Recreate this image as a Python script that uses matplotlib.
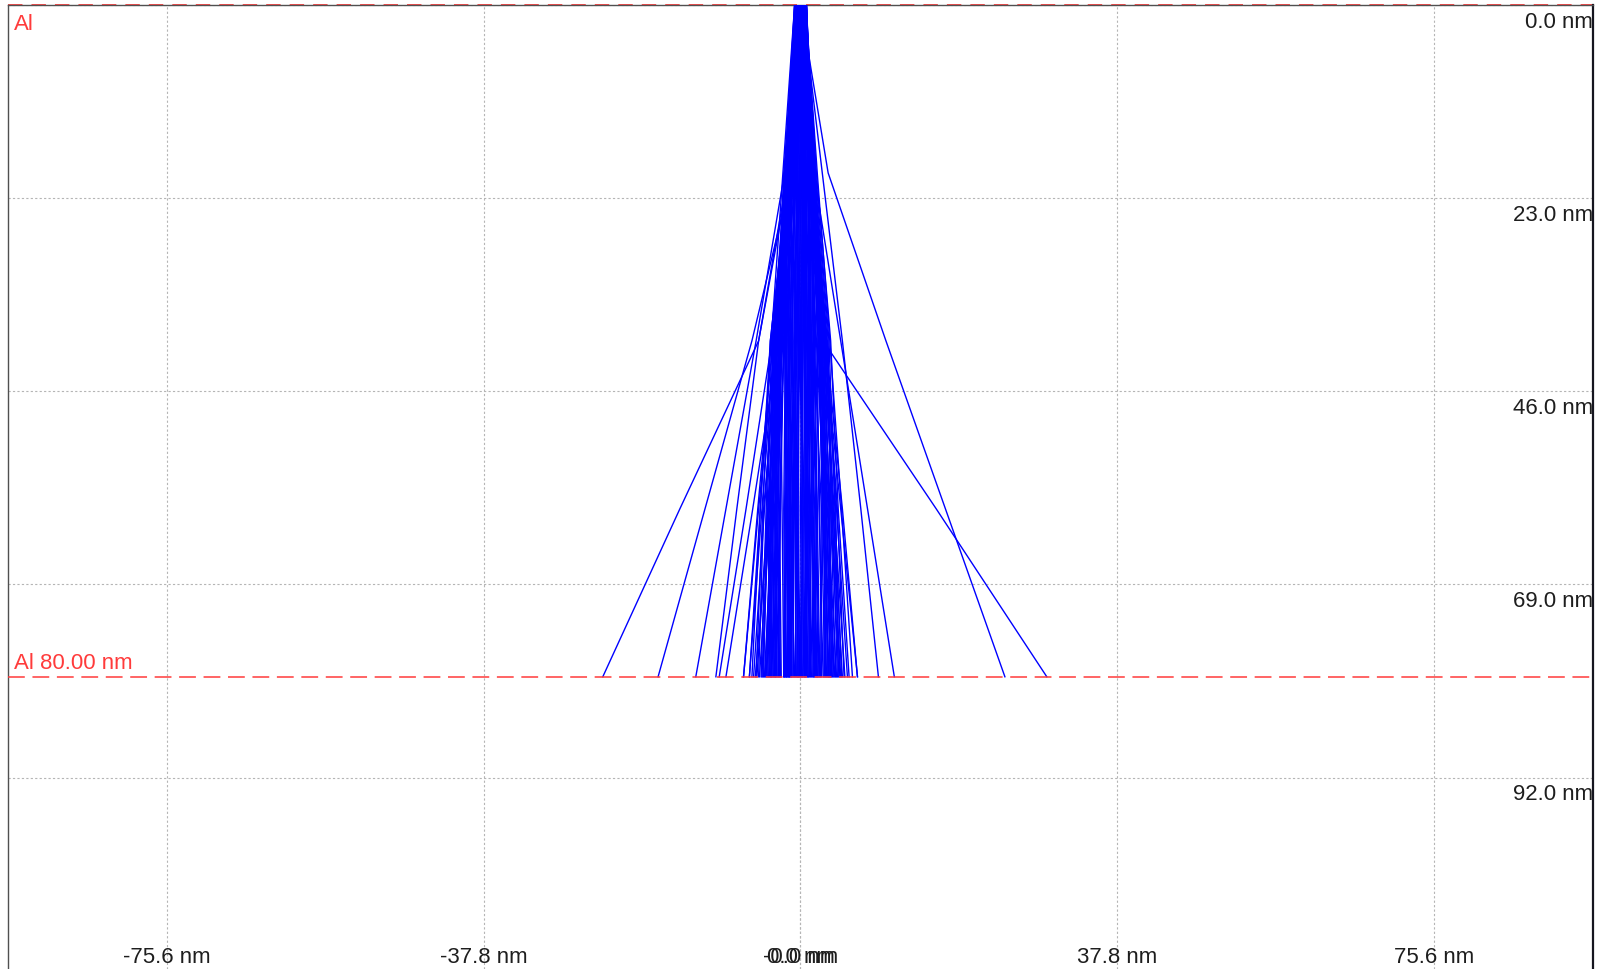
import matplotlib
matplotlib.use("Agg")
import matplotlib.pyplot as plt

plt.rcParams["font.family"] = ["Liberation Sans", "DejaVu Sans"]

# Film: aluminium layer, 80 nm thick
layer_name = "Al"
layer_thickness = 80.0

# Axis grid / tick values (nm)
x_ticks = [-75.6, -37.8, -0.0, 0.0, 37.8, 75.6]
x_tick_labels = ["-75.6 nm", "-37.8 nm", "-0.0 nm", "0.0 nm", "37.8 nm", "75.6 nm"]
y_ticks = [0.0, 23.0, 46.0, 69.0, 92.0]
y_tick_labels = ["0.0 nm", "23.0 nm", "46.0 nm", "69.0 nm", "92.0 nm"]

# Depths (nm) at which each electron trajectory is sampled
depths = [0.0, 20.0, 40.0, 60.0, 80.0]

# Lateral position (nm) of each trajectory at the depths above
core_tracks = [
    [-0.6, -1.5, -1.9, -1.7, -1.8],
    [-0.5, -1.2, -1.6, -1.9, -1.7],
    [-0.5, -1.4, -1.2, -1.5, -1.6],
    [-0.4, -0.9, -1.5, -1.3, -1.5],
    [-0.4, -1.1, -1.0, -1.4, -1.3],
    [-0.3, -0.7, -1.3, -1.1, -1.2],
    [-0.3, -0.8, -0.9, -1.2, -1.0],
    [-0.2, -0.6, -1.1, -0.8, -0.9],
    [-0.2, -0.4, -0.7, -1.0, -0.8],
    [-0.1, -0.5, -0.6, -0.6, -0.6],
    [-0.1, -0.3, -0.8, -0.7, -0.5],
    [0.0, -0.2, -0.4, -0.5, -0.4],
    [0.0, -0.1, -0.3, -0.2, -0.2],
    [0.0, 0.0, -0.1, -0.3, -0.1],
    [0.1, 0.1, 0.0, 0.1, 0.0],
    [0.1, 0.2, 0.2, 0.0, 0.2],
    [0.1, 0.3, 0.1, 0.3, 0.3],
    [0.2, 0.4, 0.5, 0.4, 0.5],
    [0.2, 0.2, 0.4, 0.6, 0.6],
    [0.2, 0.5, 0.7, 0.5, 0.8],
    [0.3, 0.6, 0.6, 0.9, 0.9],
    [0.3, 0.4, 0.9, 0.8, 1.1],
    [0.4, 0.7, 0.8, 1.1, 1.2],
    [0.4, 0.9, 1.1, 1.0, 1.4],
    [0.5, 0.8, 1.2, 1.3, 1.5],
    [0.5, 1.0, 1.0, 1.4, 1.7],
    [0.6, 1.1, 1.3, 1.6, 1.8],
    [0.6, 1.2, 1.5, 1.5, 2.0],
    [0.7, 1.3, 1.4, 1.8, 2.1],
    [-0.6, -1.0, -1.7, -1.6, -1.4],
    [-0.2, -0.3, -0.5, -0.9, -1.1],
    [0.0, 0.3, 0.3, 0.2, 0.4],
    [0.3, 0.1, 0.6, 0.7, 0.7],
    [-0.4, -0.6, -0.2, -0.4, -0.3],
    [0.5, 0.6, 0.8, 1.2, 1.0],
    [-0.1, 0.0, 0.2, 0.3, 0.1],
    [-0.7, -1.6, -1.8, -2.0, -1.9],
    [-0.6, -1.3, -1.4, -1.8, -2.0],
    [-0.5, -1.1, -1.8, -1.6, -1.9],
    [-0.4, -1.5, -1.7, -1.2, -1.7],
    [-0.3, -1.0, -1.2, -1.7, -1.4],
    [-0.3, -0.5, -1.4, -1.5, -1.1],
    [-0.2, -0.9, -0.6, -1.3, -0.7],
    [-0.1, -0.7, -1.0, -0.4, -0.3],
    [0.0, -0.4, -0.2, -0.6, 0.2],
    [0.1, 0.5, 0.4, 0.8, 0.5],
    [0.2, 0.7, 1.0, 0.7, 1.3],
    [0.3, 0.9, 1.3, 1.4, 1.6],
    [0.4, 1.1, 0.9, 1.7, 1.9],
    [0.5, 1.2, 1.6, 1.9, 2.2],
    [0.6, 0.9, 1.2, 2.0, 1.6],
    [0.7, 1.4, 1.6, 1.3, 2.0],
    [-0.5, -0.8, -0.4, -0.9, -1.3],
    [-0.3, -1.2, -1.5, -0.9, -1.6],
    [0.2, 0.0, -0.2, 0.5, 0.9],
    [0.4, 0.3, 0.5, 1.0, 0.6],
]

halo_tracks = [
    [-0.5, -1.6, -2.4, -2.2, -2.0],
    [-0.4, -1.3, -2.0, -2.5, -2.3],
    [-0.6, -1.5, -2.2, -2.8, -2.6],
    [-0.3, -1.2, -2.6, -2.4, -2.9],
    [-0.5, -1.4, -1.9, -2.9, -3.2],
    [-0.2, -1.0, -2.3, -3.1, -3.4],
    [-0.6, -1.6, -2.8, -3.2, -3.7],
    [-0.4, -1.1, -2.5, -3.5, -3.9],
    [-0.3, -1.4, -2.1, -3.3, -4.3],
    [-0.5, -1.5, -3.0, -3.8, -4.6],
    [-0.2, -0.9, -2.4, -3.9, -5.2],
    [-0.4, -1.3, -2.9, -4.3, -5.6],
    [-0.6, -1.7, -3.1, -4.6, -6.1],
    [-0.3, -1.2, -3.3, -5.1, -6.8],
    [-0.6, -1.8, -2.7, -2.6, -2.4],
    [-0.5, -1.7, -2.3, -3.0, -2.8],
    [-0.4, -1.5, -2.9, -3.4, -3.1],
    [-0.7, -1.9, -2.5, -3.6, -3.5],
    [-0.3, -1.6, -3.2, -4.0, -4.4],
    [-0.6, -1.3, -2.7, -4.4, -5.0],
    [-0.6, -1.7, -2.6, -3.0, -3.3],
    [-0.5, -1.9, -3.0, -2.8, -3.0],
    [-0.4, -1.4, -2.3, -2.7, -2.5],
    [-0.7, -1.8, -3.3, -3.6, -4.0],
    [-0.3, -1.5, -2.8, -3.9, -3.6],
    [-0.6, -1.2, -2.2, -3.3, -3.8],
    [-0.5, -1.6, -3.4, -4.1, -4.7],
    [-0.4, -2.0, -2.9, -3.5, -4.2],
    [-0.6, -1.4, -2.5, -2.9, -3.0],
    [-0.2, -1.7, -3.1, -3.7, -5.4],
    [-0.5, -1.5, -2.0, -2.4, -2.7],
    [-0.7, -2.1, -3.5, -4.8, -5.8],
    [-0.4, -1.8, -2.4, -3.3, -3.5],
    [-0.3, -1.3, -3.6, -4.5, -5.3],
    [-0.6, -1.9, -2.7, -3.8, -4.5],
    [0.6, 1.4, 1.7, 2.0, 2.3],
    [0.5, 1.2, 1.8, 2.3, 2.5],
    [0.7, 1.5, 2.0, 2.2, 2.7],
    [0.4, 1.3, 1.6, 2.5, 2.9],
    [0.6, 1.1, 2.1, 2.7, 3.1],
    [0.5, 1.4, 2.3, 2.6, 3.4],
    [0.3, 1.0, 1.9, 2.9, 3.6],
    [0.7, 1.6, 2.4, 3.1, 3.8],
    [0.4, 1.2, 2.2, 3.3, 4.0],
    [0.6, 1.3, 2.6, 3.2, 4.3],
    [0.5, 1.5, 2.5, 3.6, 4.6],
    [0.3, 1.1, 2.7, 3.9, 5.0],
    [0.6, 1.7, 2.9, 4.0, 5.3],
    [0.5, 1.4, 3.0, 4.3, 5.6],
    [0.4, 1.2, 2.8, 4.8, 6.8],
    [0.7, 1.6, 2.2, 2.6, 2.4],
    [0.6, 1.5, 2.6, 2.9, 3.3],
    [0.5, 1.8, 2.4, 3.4, 3.9],
    [0.7, 1.3, 2.8, 3.0, 4.1],
    [0.4, 1.6, 3.1, 3.7, 4.8],
    [0.6, 1.6, 2.5, 2.8, 3.0],
    [0.5, 1.3, 2.9, 3.4, 3.5],
    [0.7, 1.7, 2.3, 2.9, 2.8],
    [0.4, 1.5, 3.2, 3.8, 4.4],
    [0.6, 1.2, 2.7, 3.5, 3.7],
    [0.5, 1.8, 3.4, 4.1, 4.9],
    [0.7, 1.4, 2.6, 3.0, 3.2],
    [0.3, 1.6, 3.0, 4.4, 5.2],
    [0.6, 1.9, 3.6, 4.5, 5.8],
    [0.5, 1.1, 2.4, 3.1, 3.6],
    [0.4, 1.7, 3.3, 3.6, 4.2],
    [0.7, 1.5, 2.8, 3.9, 4.7],
    [0.6, 2.0, 3.5, 4.9, 6.2],
    [0.5, 1.3, 2.2, 2.8, 3.4],
    [0.4, 1.6, 3.1, 4.2, 4.5],
]

wide_tracks = [
    [0.0, 3.3, 10.2, 17.3, 24.4],
    [0.1, 1.0, 2.7, 16.2, 29.4],
    [0.2, 2.6, 5.0, 7.2, 9.3],
    [0.0, 1.6, 4.8, 8.0, 11.2],
    [0.3, 1.5, 3.0, 5.0, 6.8],
    [0.0, -1.5, -5.0, -14.4, -23.6],
    [-0.2, -1.0, -5.8, -11.4, -17.0],
    [0.0, -1.9, -5.3, -8.9, -12.5],
    [0.0, -1.3, -5.0, -7.6, -10.1],
    [0.1, -0.8, -3.4, -6.5, -9.7],
    [0.0, -1.0, -2.6, -5.7, -8.9],
    [-0.2, -1.6, -3.0, -5.0, -6.8],
    [0.0, -1.4, -3.6, -4.8, -6.1],
    [0.1, -0.6, -2.2, -3.6, -4.9],
    [0.0, -1.2, -2.6, -3.4, -4.1],
]

BLUE = "#0000ff"
RED = "#ff3b3b"
GRID = "#b5b5b5"
TEXT = "#1e1e1e"

fig = plt.figure(figsize=(16.06, 9.70), dpi=100)
ax = fig.add_axes([8 / 1606, 0.0, 1585 / 1606, 964 / 970])
ax.set_xlim(-94.6, 94.6)
ax.set_ylim(114.8, 0.0)
ax.set_xticks([])
ax.set_yticks([])

for s in ("left", "top"):
    ax.spines[s].set_color("#505050")
    ax.spines[s].set_linewidth(1.0)
ax.spines["right"].set_color("#15151f")
ax.spines["right"].set_linewidth(1.6)
ax.spines["bottom"].set_visible(False)

# dotted grid
for xv in x_ticks:
    ax.axvline(xv, color=GRID, lw=0.8, ls=(0, (2, 2)), zorder=1)
for yv in y_ticks:
    ax.axhline(yv, color=GRID, lw=0.8, ls=(0, (2, 2)), zorder=1)

# surface line
ax.axhline(0.0, color=RED, lw=1.3, ls=(0, (8, 5)), zorder=2, clip_on=False)

# electron trajectories
for tracks in (core_tracks, halo_tracks, wide_tracks):
    for tr in tracks:
        ax.plot(tr, depths, color=BLUE, lw=1.0, zorder=3, solid_joinstyle="round")

# bottom of the layer
ax.axhline(layer_thickness, color=RED, lw=1.1, ls=(0, (11, 5)), zorder=4)

# labels
ax.annotate(layer_name, xy=(0, 1), xycoords="axes fraction",
            xytext=(4.5, -6), textcoords="offset points",
            ha="left", va="top", color=RED, fontsize=16)
ax.annotate(f"{layer_name} {layer_thickness:.2f} nm",
            xy=(0, layer_thickness), xycoords=("axes fraction", "data"),
            xytext=(4, 6), textcoords="offset points",
            ha="left", va="baseline", color=RED, fontsize=16)

for yv, lab in zip(y_ticks, y_tick_labels):
    ax.annotate(lab, xy=(1, yv), xycoords=("axes fraction", "data"),
                xytext=(0, -4), textcoords="offset points",
                ha="right", va="top", color=TEXT, fontsize=16)

for xv, lab in zip(x_ticks, x_tick_labels):
    ax.annotate(lab, xy=(xv, 0), xycoords=("data", "axes fraction"),
                xytext=(0, 5), textcoords="offset points",
                ha="center", va="baseline", color=TEXT, fontsize=16)

fig.savefig("out.png", dpi=100, facecolor="white")
